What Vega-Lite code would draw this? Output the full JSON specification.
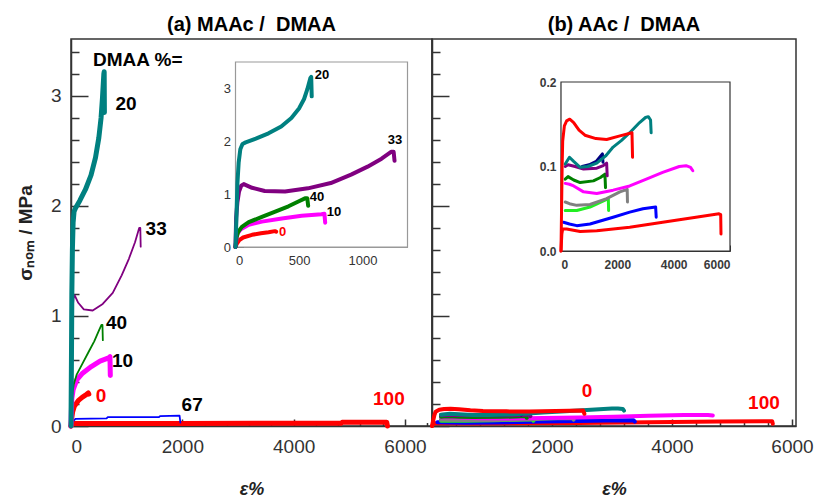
{
  "$schema": "https://vega.github.io/schema/vega-lite/v6.json",
  "background": "white",
  "padding": {"left": 15, "top": 14, "right": 5, "bottom": 0},
  "config": {
    "font": "Liberation Sans",
    "view": {"stroke": "#333", "strokeWidth": 1.5},
    "axis": {"grid": false, "labelFont": "Liberation Sans", "titleFont": "Liberation Sans"}
  },
  "datasets": {
    "A": [
      {"s": "a100", "x": 0, "y": 0}, {"s": "a100", "x": 20, "y": 0.022}, {"s": "a100", "x": 2000, "y": 0.023}, {"s": "a100", "x": 4850, "y": 0.025}, {"s": "a100", "x": 4870, "y": 0.033}, {"s": "a100", "x": 5670, "y": 0.035}, {"s": "a100", "x": 5685, "y": 0.0},
      {"s": "a67", "x": 0, "y": 0}, {"s": "a67", "x": 40, "y": 0.045}, {"s": "a67", "x": 80, "y": 0.065}, {"s": "a67", "x": 640, "y": 0.07}, {"s": "a67", "x": 660, "y": 0.08}, {"s": "a67", "x": 1580, "y": 0.08}, {"s": "a67", "x": 1600, "y": 0.09}, {"s": "a67", "x": 1950, "y": 0.095}, {"s": "a67", "x": 1965, "y": 0.03},
      {"s": "a0", "x": 0, "y": 0}, {"s": "a0", "x": 10, "y": 0.06}, {"s": "a0", "x": 30, "y": 0.13}, {"s": "a0", "x": 60, "y": 0.18}, {"s": "a0", "x": 130, "y": 0.23}, {"s": "a0", "x": 200, "y": 0.26}, {"s": "a0", "x": 260, "y": 0.28}, {"s": "a0", "x": 310, "y": 0.3}, {"s": "a0", "x": 320, "y": 0.29},
      {"s": "a10", "x": 0, "y": 0}, {"s": "a10", "x": 6, "y": 0.12}, {"s": "a10", "x": 15, "y": 0.25}, {"s": "a10", "x": 39, "y": 0.33}, {"s": "a10", "x": 104, "y": 0.42}, {"s": "a10", "x": 208, "y": 0.48}, {"s": "a10", "x": 365, "y": 0.54}, {"s": "a10", "x": 521, "y": 0.59}, {"s": "a10", "x": 677, "y": 0.62}, {"s": "a10", "x": 700, "y": 0.63}, {"s": "a10", "x": 706, "y": 0.46},
      {"s": "a40", "x": 0, "y": 0}, {"s": "a40", "x": 8, "y": 0.18}, {"s": "a40", "x": 20, "y": 0.28}, {"s": "a40", "x": 50, "y": 0.38}, {"s": "a40", "x": 104, "y": 0.47}, {"s": "a40", "x": 208, "y": 0.57}, {"s": "a40", "x": 313, "y": 0.67}, {"s": "a40", "x": 417, "y": 0.77}, {"s": "a40", "x": 495, "y": 0.86}, {"s": "a40", "x": 547, "y": 0.92}, {"s": "a40", "x": 565, "y": 0.92}, {"s": "a40", "x": 572, "y": 0.78},
      {"s": "a33", "x": 0, "y": 0}, {"s": "a33", "x": 5, "y": 0.55}, {"s": "a33", "x": 15, "y": 0.85}, {"s": "a33", "x": 28, "y": 1.05}, {"s": "a33", "x": 45, "y": 1.16}, {"s": "a33", "x": 65, "y": 1.19}, {"s": "a33", "x": 130, "y": 1.12}, {"s": "a33", "x": 230, "y": 1.06}, {"s": "a33", "x": 390, "y": 1.05}, {"s": "a33", "x": 570, "y": 1.11}, {"s": "a33", "x": 750, "y": 1.21}, {"s": "a33", "x": 910, "y": 1.37}, {"s": "a33", "x": 1040, "y": 1.52}, {"s": "a33", "x": 1150, "y": 1.67}, {"s": "a33", "x": 1225, "y": 1.8}, {"s": "a33", "x": 1245, "y": 1.8}, {"s": "a33", "x": 1252, "y": 1.63},
      {"s": "a20", "x": 0, "y": 0}, {"s": "a20", "x": 8, "y": 0.6}, {"s": "a20", "x": 15, "y": 1.2}, {"s": "a20", "x": 25, "y": 1.6}, {"s": "a20", "x": 38, "y": 1.85}, {"s": "a20", "x": 55, "y": 1.95}, {"s": "a20", "x": 80, "y": 1.98}, {"s": "a20", "x": 160, "y": 2.05}, {"s": "a20", "x": 260, "y": 2.15}, {"s": "a20", "x": 360, "y": 2.28}, {"s": "a20", "x": 440, "y": 2.44}, {"s": "a20", "x": 500, "y": 2.62}, {"s": "a20", "x": 540, "y": 2.8}, {"s": "a20", "x": 565, "y": 2.98}, {"s": "a20", "x": 590, "y": 3.2}, {"s": "a20", "x": 596, "y": 3.22}, {"s": "a20", "x": 600, "y": 2.85}
    ],
    "B": [
      {"s": "B100", "x": 0, "y": 0}, {"s": "B100", "x": 30, "y": 0.02}, {"s": "B100", "x": 60, "y": 0.026}, {"s": "B100", "x": 200, "y": 0.026}, {"s": "B100", "x": 680, "y": 0.023}, {"s": "B100", "x": 1270, "y": 0.024}, {"s": "B100", "x": 2440, "y": 0.028}, {"s": "B100", "x": 3610, "y": 0.034}, {"s": "B100", "x": 4790, "y": 0.04}, {"s": "B100", "x": 5610, "y": 0.044}, {"s": "B100", "x": 5670, "y": 0.043}, {"s": "B100", "x": 5680, "y": 0.02},
      {"s": "Bblue", "x": 90, "y": 0.034}, {"s": "Bblue", "x": 300, "y": 0.032}, {"s": "Bblue", "x": 560, "y": 0.03}, {"s": "Bblue", "x": 1030, "y": 0.032}, {"s": "Bblue", "x": 1850, "y": 0.04}, {"s": "Bblue", "x": 2440, "y": 0.046}, {"s": "Bblue", "x": 2910, "y": 0.05}, {"s": "Bblue", "x": 3360, "y": 0.052}, {"s": "Bblue", "x": 3380, "y": 0.04},
      {"s": "Blime", "x": 150, "y": 0.048}, {"s": "Blime", "x": 560, "y": 0.048}, {"s": "Blime", "x": 1030, "y": 0.052}, {"s": "Blime", "x": 1680, "y": 0.062}, {"s": "Blime", "x": 1690, "y": 0.048},
      {"s": "Bgray", "x": 150, "y": 0.058}, {"s": "Bgray", "x": 300, "y": 0.056}, {"s": "Bgray", "x": 560, "y": 0.054}, {"s": "Bgray", "x": 1030, "y": 0.055}, {"s": "Bgray", "x": 1620, "y": 0.062}, {"s": "Bgray", "x": 2090, "y": 0.07}, {"s": "Bgray", "x": 2350, "y": 0.073}, {"s": "Bgray", "x": 2360, "y": 0.058},
      {"s": "Bmagenta", "x": 150, "y": 0.08}, {"s": "Bmagenta", "x": 300, "y": 0.079}, {"s": "Bmagenta", "x": 450, "y": 0.077}, {"s": "Bmagenta", "x": 800, "y": 0.07}, {"s": "Bmagenta", "x": 1270, "y": 0.068}, {"s": "Bmagenta", "x": 1850, "y": 0.072}, {"s": "Bmagenta", "x": 2440, "y": 0.077}, {"s": "Bmagenta", "x": 3030, "y": 0.085}, {"s": "Bmagenta", "x": 3610, "y": 0.093}, {"s": "Bmagenta", "x": 4200, "y": 0.1}, {"s": "Bmagenta", "x": 4440, "y": 0.101}, {"s": "Bmagenta", "x": 4600, "y": 0.099}, {"s": "Bmagenta", "x": 4680, "y": 0.095},
      {"s": "Bgreen", "x": 150, "y": 0.085}, {"s": "Bgreen", "x": 250, "y": 0.088}, {"s": "Bgreen", "x": 450, "y": 0.084}, {"s": "Bgreen", "x": 680, "y": 0.081}, {"s": "Bgreen", "x": 1150, "y": 0.083}, {"s": "Bgreen", "x": 1400, "y": 0.087}, {"s": "Bgreen", "x": 1560, "y": 0.091}, {"s": "Bgreen", "x": 1580, "y": 0.075},
      {"s": "Bpurple", "x": 150, "y": 0.1}, {"s": "Bpurple", "x": 250, "y": 0.102}, {"s": "Bpurple", "x": 500, "y": 0.1}, {"s": "Bpurple", "x": 800, "y": 0.097}, {"s": "Bpurple", "x": 1270, "y": 0.098}, {"s": "Bpurple", "x": 1500, "y": 0.101}, {"s": "Bpurple", "x": 1620, "y": 0.104}, {"s": "Bpurple", "x": 1640, "y": 0.089},
      {"s": "Bnavy", "x": 750, "y": 0.1}, {"s": "Bnavy", "x": 1000, "y": 0.102}, {"s": "Bnavy", "x": 1250, "y": 0.106}, {"s": "Bnavy", "x": 1470, "y": 0.115}, {"s": "Bnavy", "x": 1490, "y": 0.105},
      {"s": "Bteal", "x": 150, "y": 0.103}, {"s": "Bteal", "x": 300, "y": 0.111}, {"s": "Bteal", "x": 450, "y": 0.106}, {"s": "Bteal", "x": 680, "y": 0.099}, {"s": "Bteal", "x": 950, "y": 0.1}, {"s": "Bteal", "x": 1270, "y": 0.104}, {"s": "Bteal", "x": 1600, "y": 0.113}, {"s": "Bteal", "x": 1850, "y": 0.123}, {"s": "Bteal", "x": 2150, "y": 0.131}, {"s": "Bteal", "x": 2440, "y": 0.14}, {"s": "Bteal", "x": 2790, "y": 0.152}, {"s": "Bteal", "x": 3000, "y": 0.158}, {"s": "Bteal", "x": 3100, "y": 0.159}, {"s": "Bteal", "x": 3180, "y": 0.155}, {"s": "Bteal", "x": 3200, "y": 0.14},
      {"s": "B0", "x": 0, "y": 0}, {"s": "B0", "x": 20, "y": 0.05}, {"s": "B0", "x": 40, "y": 0.1}, {"s": "B0", "x": 60, "y": 0.13}, {"s": "B0", "x": 120, "y": 0.148}, {"s": "B0", "x": 200, "y": 0.154}, {"s": "B0", "x": 310, "y": 0.156}, {"s": "B0", "x": 450, "y": 0.152}, {"s": "B0", "x": 640, "y": 0.143}, {"s": "B0", "x": 850, "y": 0.137}, {"s": "B0", "x": 1240, "y": 0.133}, {"s": "B0", "x": 1620, "y": 0.132}, {"s": "B0", "x": 2060, "y": 0.136}, {"s": "B0", "x": 2520, "y": 0.14}, {"s": "B0", "x": 2540, "y": 0.111}
    ],
    "LA": [
      {"x": 990, "y": 2.93, "t": "20"}, {"x": 1530, "y": 1.79, "t": "33"}, {"x": 818, "y": 0.94, "t": "40"}, {"x": 926, "y": 0.595, "t": "10"}, {"x": 540, "y": 0.277, "t": "0"}, {"x": 2176, "y": 0.19, "t": "67"}, {"x": 5710, "y": 0.245, "t": "100"}, {"x": 1200, "y": 3.33, "t": "DMAA %="}
    ],
    "LAi": [
      {"x": 681, "y": 3.25, "t": "20"}, {"x": 1256, "y": 2.02, "t": "33"}, {"x": 642, "y": 0.95, "t": "40"}, {"x": 775, "y": 0.67, "t": "10"}, {"x": 370, "y": 0.29, "t": "0"}
    ],
    "LB": [
      {"x": 2583, "y": 0.32, "t": "0"}, {"x": 5533, "y": 0.205, "t": "100"}
    ]
  },
  "spacing": 0,
  "bounds": "flush",
  "hconcat": [
    {
      "title": {"text": "(a) MAAc / \u00a0DMAA", "fontSize": 20, "fontWeight": "bold", "font": "Liberation Sans", "anchor": "middle", "offset": 4, "color": "#000"},
      "width": 361,
      "height": 387,
      "layer": [
        {
          "data": {"name": "A"},
          "mark": {"type": "line", "strokeJoin": "round", "strokeCap": "round"},
          "encoding": {
            "x": {"field": "x", "type": "quantitative", "scale": {"domain": [0, 6485], "nice": false, "zero": false},
              "axis": {"orient": "bottom", "values": [0,400,800,1200,1600,2000,2400,2800,3200,3600,4000,4400,4800,5200,5600,6000,6400], "format": "d",
                "labelExpr": "datum.value % 2000 == 0 ? datum.label : ''",
                "tickSize": {"condition": {"test": "datum.value % 2000 == 0", "value": -7}, "value": -3.5},
                "tickColor": "#333", "tickWidth": 1.5, "domainColor": "#333", "domainWidth": 1.5,
                "labelFontSize": 19, "labelColor": "#333", "labelPadding": 18,
                "title": "ε%", "titleFontSize": 18, "titleFontWeight": "bold", "titleFontStyle": "italic", "titleColor": "#222", "titlePadding": 24}},
            "y": {"field": "y", "type": "quantitative", "scale": {"domain": [0, 3.518], "nice": false, "zero": false},
              "axis": {"orient": "left", "values": [0,0.2,0.4,0.6,0.8,1,1.2,1.4,1.6,1.8,2,2.2,2.4,2.6,2.8,3,3.2,3.4],
                "labelExpr": "datum.value % 1 == 0 ? format(datum.value, 'd') : ''",
                "tickSize": {"condition": {"test": "datum.value % 1 == 0", "value": -17}, "value": -8},
                "tickColor": "#333", "tickWidth": 1.5, "domainColor": "#333", "domainWidth": 1.5,
                "labelFontSize": 19, "labelColor": "#333", "labelPadding": 27,
                "title": "σₙₒₘ / MPa", "titleFontSize": 19, "titleFontWeight": "bold", "titleColor": "#222", "titlePadding": 15}},
            "color": {"field": "s", "type": "nominal", "legend": null,
              "scale": {"domain": ["a0","a10","a20","a33","a40","a67","a100","B0","Bteal","Bnavy","Bpurple","Bgreen","Bmagenta","Bgray","Blime","Bblue","B100"],
                        "range": ["#ff0000","#ff00ff","#008080","#800080","#008000","#0000ff","#ff0000","#ff0000","#008080","#000080","#800080","#008000","#ff00ff","#808080","#22ee22","#0000ff","#ff0000"]}},
            "strokeWidth": {"condition": {"test": "datum.s == 'a20' || datum.s == 'a10' || datum.s == 'a0' || datum.s == 'a100'", "value": 5}, "value": 1.8}
          }
        },
        {
          "data": {"name": "LA"},
          "mark": {"type": "text", "fontSize": 19, "fontWeight": "bold", "font": "Liberation Sans", "align": "center", "baseline": "middle"},
          "encoding": {
            "x": {"field": "x", "type": "quantitative", "scale": {"domain": [0, 6485], "nice": false, "zero": false}, "axis": null},
            "y": {"field": "y", "type": "quantitative", "scale": {"domain": [0, 3.518], "nice": false, "zero": false}, "axis": null},
            "text": {"field": "t"},
            "color": {"condition": {"test": "datum.t == '0' || datum.t == '100'", "value": "#ff0000"}, "value": "#000000"}
          }
        },
        {
          "data": {"values": [{}]},
          "mark": {"type": "rect", "fill": "white", "stroke": "#999", "strokeWidth": 1.2},
          "encoding": {
            "x": {"datum": 0, "type": "quantitative", "scale": {"domain": [0, 1354], "range": [164.5, 336.5], "nice": false, "zero": false}, "axis": null},
            "x2": {"datum": 1354},
            "y": {"datum": 0, "type": "quantitative", "scale": {"domain": [0, 3.5], "range": [208, 23], "nice": false, "zero": false}, "axis": null},
            "y2": {"datum": 3.5}
          }
        },
        {
          "data": {"name": "A"},
          "transform": [{"filter": "datum.s != 'a67' && datum.s != 'a100'"}],
          "mark": {"type": "line", "strokeJoin": "round", "strokeCap": "round", "strokeWidth": 4},
          "encoding": {
            "x": {"field": "x", "type": "quantitative", "scale": {"domain": [0, 1354], "range": [164.5, 336.5], "nice": false, "zero": false},
              "axis": {"orient": "bottom", "offset": -179, "values": [0,100,200,300,400,500,600,700,800,900,1000,1100,1200,1300], "format": "d",
                "labelExpr": "datum.value % 500 == 0 ? datum.label : ''",
                "tickSize": {"condition": {"test": "datum.value % 500 == 0", "value": -5}, "value": -3},
                "tickColor": "#777", "tickWidth": 1, "domainColor": "#999", "domainWidth": 1.2,
                "labelFontSize": 13, "labelColor": "#333", "labelPadding": 12, "title": null}},
            "y": {"field": "y", "type": "quantitative", "scale": {"domain": [0, 3.5], "range": [208, 23], "nice": false, "zero": false},
              "axis": {"orient": "left", "offset": -164.5, "values": [0,0.2,0.4,0.6,0.8,1,1.2,1.4,1.6,1.8,2,2.2,2.4,2.6,2.8,3,3.2,3.4],
                "labelExpr": "datum.value % 1 == 0 ? format(datum.value, 'd') : ''",
                "tickSize": {"condition": {"test": "datum.value % 1 == 0", "value": -8}, "value": -4},
                "tickColor": "#777", "tickWidth": 1, "domainColor": "#999", "domainWidth": 1.2,
                "labelFontSize": 13, "labelColor": "#333", "labelPadding": 13, "title": null}},
            "color": {"field": "s", "type": "nominal", "legend": null,
              "scale": {"domain": ["a0","a10","a20","a33","a40","a67","a100","B0","Bteal","Bnavy","Bpurple","Bgreen","Bmagenta","Bgray","Blime","Bblue","B100"],
                        "range": ["#ff0000","#ff00ff","#008080","#800080","#008000","#0000ff","#ff0000","#ff0000","#008080","#000080","#800080","#008000","#ff00ff","#808080","#22ee22","#0000ff","#ff0000"]}}
          }
        },
        {
          "data": {"name": "LAi"},
          "mark": {"type": "text", "fontSize": 13, "fontWeight": "bold", "font": "Liberation Sans", "align": "center", "baseline": "middle"},
          "encoding": {
            "x": {"field": "x", "type": "quantitative", "scale": {"domain": [0, 1354], "range": [164.5, 336.5], "nice": false, "zero": false}, "axis": null},
            "y": {"field": "y", "type": "quantitative", "scale": {"domain": [0, 3.5], "range": [208, 23], "nice": false, "zero": false}, "axis": null},
            "text": {"field": "t"},
            "color": {"condition": {"test": "datum.t == '0'", "value": "#ff0000"}, "value": "#000000"}
          }
        }
      ],
      "resolve": {"scale": {"x": "independent", "y": "independent"}}
    },
    {
      "title": {"text": "(b) AAc / \u00a0DMAA", "fontSize": 20, "fontWeight": "bold", "font": "Liberation Sans", "anchor": "middle", "offset": 4, "dx": 10, "color": "#000"},
      "width": 364,
      "height": 387,
      "layer": [
        {
          "data": {"name": "B"},
          "mark": {"type": "line", "strokeJoin": "round", "strokeCap": "round", "strokeWidth": 4},
          "encoding": {
            "x": {"field": "x", "type": "quantitative", "scale": {"domain": [0, 6067], "nice": false, "zero": false},
              "axis": {"orient": "bottom", "values": [0,400,800,1200,1600,2000,2400,2800,3200,3600,4000,4400,4800,5200,5600,6000], "format": "d",
                "labelExpr": "datum.value % 2000 == 0 && datum.value > 0 ? datum.label : ''",
                "tickSize": {"condition": {"test": "datum.value % 2000 == 0", "value": -7}, "value": -3.5},
                "tickColor": "#333", "tickWidth": 1.5, "domainColor": "#333", "domainWidth": 1.5,
                "labelFontSize": 19, "labelColor": "#333", "labelPadding": 18,
                "title": "ε%", "titleFontSize": 18, "titleFontWeight": "bold", "titleFontStyle": "italic", "titleColor": "#222", "titlePadding": 24}},
            "y": {"field": "y", "type": "quantitative", "scale": {"domain": [0, 3.518], "nice": false, "zero": false},
              "axis": {"orient": "left", "values": [0,0.2,0.4,0.6,0.8,1,1.2,1.4,1.6,1.8,2,2.2,2.4,2.6,2.8,3,3.2,3.4],
                "labels": false,
                "tickSize": {"condition": {"test": "datum.value % 1 == 0", "value": -17}, "value": -8},
                "tickColor": "#333", "tickWidth": 1.5, "domainColor": "#333", "domainWidth": 1.5, "title": null}},
            "color": {"field": "s", "type": "nominal", "legend": null,
              "scale": {"domain": ["a0","a10","a20","a33","a40","a67","a100","B0","Bteal","Bnavy","Bpurple","Bgreen","Bmagenta","Bgray","Blime","Bblue","B100"],
                        "range": ["#ff0000","#ff00ff","#008080","#800080","#008000","#0000ff","#ff0000","#ff0000","#008080","#000080","#800080","#008000","#ff00ff","#808080","#22ee22","#0000ff","#ff0000"]}}
          }
        },
        {
          "data": {"name": "LB"},
          "mark": {"type": "text", "fontSize": 19, "fontWeight": "bold", "font": "Liberation Sans", "align": "center", "baseline": "middle", "color": "#ff0000"},
          "encoding": {
            "x": {"field": "x", "type": "quantitative", "scale": {"domain": [0, 6067], "nice": false, "zero": false}, "axis": null},
            "y": {"field": "y", "type": "quantitative", "scale": {"domain": [0, 3.518], "nice": false, "zero": false}, "axis": null},
            "text": {"field": "t"}
          }
        },
        {
          "data": {"values": [{}]},
          "mark": {"type": "rect", "fill": "white", "stroke": "#333", "strokeWidth": 1.2},
          "encoding": {
            "x": {"datum": 0, "type": "quantitative", "scale": {"domain": [0, 6000], "range": [129, 298], "nice": false, "zero": false}, "axis": null},
            "x2": {"datum": 6000},
            "y": {"datum": 0, "type": "quantitative", "scale": {"domain": [0, 0.2], "range": [212, 43], "nice": false, "zero": false}, "axis": null},
            "y2": {"datum": 0.2}
          }
        },
        {
          "data": {"name": "B"},
          "mark": {"type": "line", "strokeJoin": "round", "strokeCap": "round", "strokeWidth": 3},
          "encoding": {
            "x": {"field": "x", "type": "quantitative", "scale": {"domain": [0, 6000], "range": [129, 298], "nice": false, "zero": false},
              "axis": {"orient": "bottom", "offset": -175, "values": [0,400,800,1200,1600,2000,2400,2800,3200,3600,4000,4400,4800,5200,5600,6000], "format": "d",
                "labelExpr": "datum.value % 2000 == 0 ? datum.label : ''",
                "tickSize": {"condition": {"test": "datum.value % 2000 == 0", "value": -6}, "value": -3},
                "tickColor": "#333", "tickWidth": 1, "domainColor": "#333", "domainWidth": 1.2,
                "labelFontSize": 12, "labelFontWeight": "bold", "labelColor": "#3a3a3a", "labelPadding": 14, "title": null}},
            "y": {"field": "y", "type": "quantitative", "scale": {"domain": [0, 0.2], "range": [212, 43], "nice": false, "zero": false},
              "axis": {"orient": "left", "offset": -129, "values": [0,0.02,0.04,0.06,0.08,0.1,0.12,0.14,0.16,0.18,0.2],
                "labelExpr": "abs(datum.value*10 - round(datum.value*10)) < 0.001 ? format(datum.value, '.1f') : ''",
                "tickSize": {"condition": {"test": "abs(datum.value*10 - round(datum.value*10)) < 0.001", "value": -6}, "value": -3},
                "tickColor": "#333", "tickWidth": 1, "domainColor": "#333", "domainWidth": 1.2,
                "labelFontSize": 12, "labelFontWeight": "bold", "labelColor": "#3a3a3a", "labelPadding": 11, "title": null}},
            "color": {"field": "s", "type": "nominal", "legend": null,
              "scale": {"domain": ["a0","a10","a20","a33","a40","a67","a100","B0","Bteal","Bnavy","Bpurple","Bgreen","Bmagenta","Bgray","Blime","Bblue","B100"],
                        "range": ["#ff0000","#ff00ff","#008080","#800080","#008000","#0000ff","#ff0000","#ff0000","#008080","#000080","#800080","#008000","#ff00ff","#808080","#22ee22","#0000ff","#ff0000"]}}
          }
        }
      ],
      "resolve": {"scale": {"x": "independent", "y": "independent"}}
    }
  ]
}
